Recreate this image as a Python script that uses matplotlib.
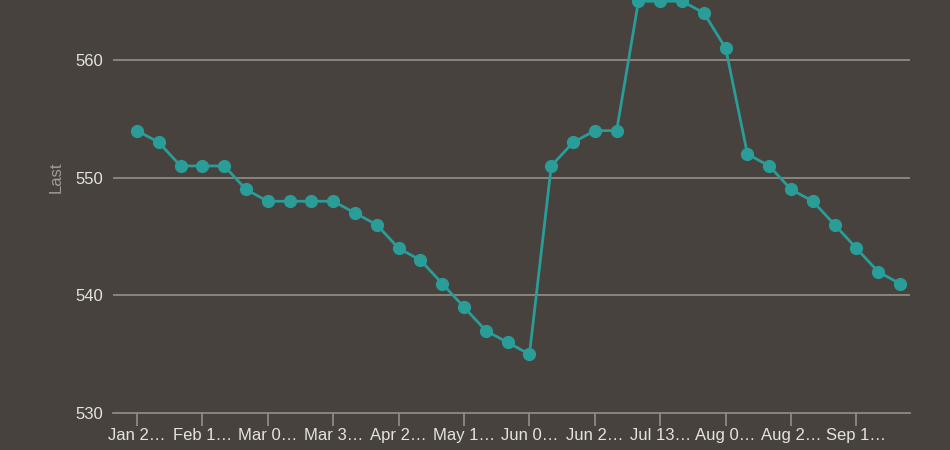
import pandas as pd
import matplotlib
matplotlib.use("Agg")
import matplotlib.pyplot as plt

# weekly values, Jan 27 .. Sep 28 2020
dates = pd.date_range("2020-01-27", periods=36, freq="7D")
last = [554, 553, 551, 551, 551, 549, 548, 548, 548, 548, 547, 546,
        544, 543, 541, 539, 537, 536, 535, 551, 553, 554, 554, 565,
        565, 565, 564, 561, 552, 551, 549, 548, 546, 544, 542, 541]

tick_dates = pd.to_datetime(["2020-01-27", "2020-02-17", "2020-03-09", "2020-03-30",
                             "2020-04-20", "2020-05-11", "2020-06-01", "2020-06-22",
                             "2020-07-13", "2020-08-03", "2020-08-24", "2020-09-14"])
tick_labels = ["Jan 2…", "Feb 1…", "Mar 0…", "Mar 3…", "Apr 2…", "May 1…",
               "Jun 0…", "Jun 2…", "Jul 13…", "Aug 0…", "Aug 2…", "Sep 1…"]
y_ticks = [530, 540, 550, 560]

bg = "#47423e"
teal = "#2a9d99"
grid_col = "#948f89"
text_col = "#e6e3de"

plt.rcParams['font.family'] = ['Liberation Sans', 'DejaVu Sans']

fig = plt.figure(figsize=(9.5, 4.5), dpi=100, facecolor=bg)
ax = fig.add_axes([0.119, 0.082, 0.839, 0.918])
ax.set_facecolor(bg)

ax.plot(dates, last, color=teal, linewidth=2.0, marker="o", markersize=8.5,
        zorder=3, clip_on=True)

week = pd.Timedelta(days=7)
ax.set_xlim(dates[0] - 1.1 * week, dates[0] + 35.46 * week)
ax.set_ylim(530, 565.1)

ax.set_yticks(y_ticks)
ax.set_yticklabels([str(v) for v in y_ticks])
ax.set_xticks(tick_dates)
ax.set_xticklabels(tick_labels)

for v in y_ticks[1:]:
    ax.axhline(v, color=grid_col, linewidth=1.2, zorder=1)

for s in ["top", "right", "left"]:
    ax.spines[s].set_visible(False)
ax.spines["bottom"].set_color(grid_col)
ax.spines["bottom"].set_linewidth(1.2)

ax.tick_params(axis="y", length=0, pad=7, labelsize=12, labelcolor=text_col)
ax.tick_params(axis="x", length=9, width=1.2, color=grid_col, pad=2,
               labelsize=12, labelcolor=text_col)

ax.set_ylabel("Last", color="#a09b94", fontsize=12)
ax.yaxis.set_label_coords(-0.062, 0.571)

fig.savefig("out.png", dpi=100, facecolor=bg)
